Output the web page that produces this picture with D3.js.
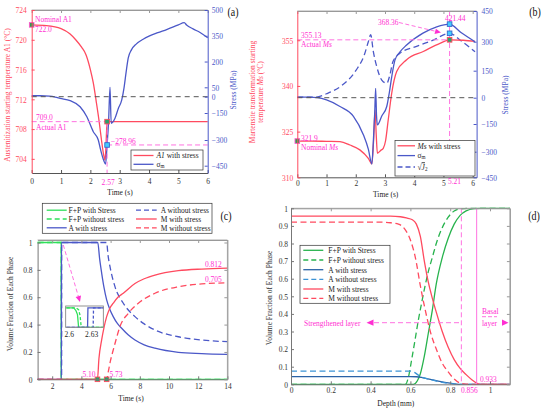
<!DOCTYPE html>
<html>
<head>
<meta charset="utf-8">
<script src="https://cdn.jsdelivr.net/npm/d3@7"></script>
<style>
body { margin: 0; background: #fff; }
svg { display: block; }
</style>
</head>
<body>
<svg id="chart" width="550" height="412"></svg>
<script>
// ---------- (a) austenitization start temperature and mean stress ----------
var timeA1 = [0, 0.5, 1, 1.3, 1.5, 1.7, 1.85, 2.0, 2.1, 2.2, 2.3, 2.38, 2.45, 2.5, 2.53, 2.57, 3, 4, 5, 6];
var a1WithStress = [722, 721.9, 721.5, 720.8, 720, 719, 718, 716, 714.2, 711.7, 709, 706.5, 704.6, 703.8, 705.5, 709, 709, 709, 709, 709];
var timeSigA = [0, 0.3, 0.6, 0.8, 0.97, 1.31, 1.65, 1.88, 2.1, 2.27, 2.35, 2.45, 2.52, 2.57, 2.62, 2.67, 2.71, 2.84, 2.95, 3.07, 3.15, 3.22, 3.29, 3.4, 3.57, 3.8, 4, 4.3, 4.6, 5, 5.2, 5.28, 5.5, 5.74, 6];
var sigmaMA = [5, 5, 3, -3, -15, -37, -92, -171, -254, -300, -358, -417, -440, -329, -200, 50, -207, -179, -110, -30, 50, 140, 220, 268, 303, 330, 348, 368, 386, 413, 426, 413, 390, 369, 338];
var tickTimeAB = [0, 1, 2, 3, 4, 5, 6];
var tickA1 = [704, 708, 712, 716, 720, 724];
var tickStressA = [500, 350, 200, 50, 0, -150, -300, -450];

// ---------- (b) martensite start temperature and stresses ----------
var timeMs = [0, 0.5, 1, 1.46, 1.8, 2.14, 2.43, 2.55, 2.61, 2.66, 2.7, 2.74, 2.85, 2.94, 3.02, 3.11, 3.23, 3.4, 3.74, 4.31, 4.88, 5.21, 5.68, 6.08];
var msWithStress = [321.9, 321.9, 321.8, 321.7, 320.6, 319, 316.2, 314.4, 322, 332, 324, 317.9, 318.8, 319.5, 322, 328.8, 337.6, 344.7, 348.6, 351.3, 354, 355.13, 355, 354.6];
var timeSigB = [0, 0.4, 0.7, 1, 1.46, 1.92, 2.26, 2.43, 2.55, 2.6, 2.65, 2.68, 2.71, 2.74, 2.89, 3.06, 3.15, 3.23, 3.34, 3.5, 3.74, 4.3, 4.77, 5.21, 5.6, 6.08];
var sigmaMB = [3, 3, 0, -13, -50, -106, -208, -286, -372, -250, -80, 52, -100, -155, -104, -50, 30, 116, 205, 245, 283, 342, 373, 386, 345, 300];
var timeJ2 = [0, 0.4, 0.7, 1, 1.5, 2, 2.3, 2.43, 2.51, 2.6, 2.72, 2.89, 3.06, 3.17, 3.27, 3.51, 4.08, 4.65, 5.21, 5.6, 6.08];
var sqrtJ2 = [3, 3, 5, 22, 65, 150, 235, 300, 335, 250, 170, 98, 80, 128, 196, 240, 276, 308, 341, 305, 248];
var tickMs = [310, 325, 340, 355];
var tickStressB = [450, 300, 150, 0, -150, -300, -450];

// ---------- (c) phase fractions vs time ----------
var timeFP = [1, 2.615, 2.62, 14];
var fpWith = [1, 1, 0, 0];
var timeFP0 = [1, 2.619, 2.624, 14];
var fpWithout = [1, 1, 0, 0];
var timeAc = [1, 2.63, 2.635, 5.12, 5.25, 5.39, 5.55, 5.73, 5.95, 6.18, 6.45, 6.76, 7.2, 7.67, 8.3, 9.04, 10.64, 12.24, 14];
var aWith = [0, 0, 1, 1, 0.88, 0.775, 0.67, 0.58, 0.51, 0.458, 0.41, 0.373, 0.325, 0.287, 0.252, 0.227, 0.197, 0.188, 0.182];
var timeAc0 = [1, 2.645, 2.65, 5.73, 5.82, 5.96, 6.3, 6.87, 7.67, 8.3, 9.04, 10.64, 12.24, 14];
var aWithout = [0, 0, 1, 1, 0.91, 0.823, 0.677, 0.556, 0.458, 0.405, 0.36, 0.311, 0.287, 0.275];
var timeMc = [1, 5.1, 5.2, 5.39, 5.55, 5.73, 5.95, 6.18, 6.5, 6.87, 7.67, 8.3, 9.04, 10.64, 12.24, 14];
var mWith = [0, 0, 0.15, 0.29, 0.38, 0.458, 0.52, 0.556, 0.6, 0.629, 0.7, 0.735, 0.762, 0.794, 0.806, 0.812];
var timeMc0 = [1, 5.73, 5.85, 6.0, 6.18, 6.4, 6.64, 7.21, 7.9, 9.04, 10.64, 12.24, 14];
var mWithout = [0, 0, 0.06, 0.14, 0.214, 0.3, 0.385, 0.482, 0.556, 0.629, 0.677, 0.697, 0.705];
var tickTimeC = [2, 4, 6, 8, 10, 12, 14];
var tickFracC = [0, 0.2, 0.4, 0.6, 0.8, 1];
// inset (zoom around 2.6 s)
var insTimeFP = [2.59, 2.606, 2.609, 2.611, 2.6125, 2.65];
var insFPWith = [1, 1, 0.85, 0.65, 0, 0];
var insTimeFP0 = [2.59, 2.609, 2.6125, 2.6145, 2.616, 2.65];
var insFPWithout = [1, 1, 0.9, 0.6, 0, 0];
var insTimeA = [2.59, 2.6245, 2.625, 2.65];
var insAWith = [0, 0, 1, 1];
var insTimeA0 = [2.59, 2.632, 2.6325, 2.65];
var insAWithout = [0, 0, 1, 1];

// ---------- (d) phase fractions vs depth ----------
var depthFP = [0, 0.6, 0.615, 0.635, 0.65, 0.67, 0.69, 0.71, 0.73, 0.76, 0.79, 0.82, 0.85, 0.88, 0.92, 0.95, 1.1];
var fpWithD = [0, 0, 0, 0.02, 0.06, 0.16, 0.29, 0.42, 0.57, 0.72, 0.83, 0.91, 0.96, 0.985, 0.998, 1, 1];
var depthFP0 = [0, 0.565, 0.575, 0.59, 0.606, 0.623, 0.64, 0.656, 0.673, 0.69, 0.71, 0.73, 0.76, 0.79, 0.82, 0.85, 0.9, 1.1];
var fpWithoutD = [0, 0, 0, 0.04, 0.138, 0.25, 0.365, 0.46, 0.555, 0.64, 0.72, 0.8, 0.89, 0.95, 0.985, 0.997, 1, 1];
var depthA = [0, 0.6, 0.63, 0.66, 0.7, 0.74, 0.78, 0.82, 0.86, 1.1];
var aWithD = [0.044, 0.044, 0.043, 0.038, 0.028, 0.018, 0.009, 0.003, 0, 0];
var depthA0 = [0, 0.6, 0.62, 0.64, 0.66, 0.7, 0.75, 0.8, 0.85, 1.1];
var aWithoutD = [0.075, 0.075, 0.068, 0.052, 0.04, 0.027, 0.013, 0.004, 0, 0];
var depthM = [0, 0.5, 0.55, 0.58, 0.61, 0.63, 0.65, 0.67, 0.69, 0.71, 0.73, 0.76, 0.79, 0.82, 0.85, 0.88, 0.91, 0.935, 0.95, 1.1];
var mWithD = [0.956, 0.956, 0.952, 0.945, 0.935, 0.91, 0.84, 0.7, 0.58, 0.49, 0.41, 0.3, 0.21, 0.14, 0.09, 0.055, 0.025, 0.006, 0, 0];
var depthM0 = [0, 0.45, 0.5, 0.54, 0.57, 0.6, 0.625, 0.65, 0.675, 0.7, 0.73, 0.76, 0.79, 0.82, 0.856, 0.9, 1.1];
var mWithoutD = [0.921, 0.921, 0.918, 0.91, 0.885, 0.82, 0.72, 0.56, 0.42, 0.3, 0.2, 0.12, 0.07, 0.03, 0.005, 0, 0];
var tickDepth = [0, 0.2, 0.4, 0.6, 0.8, 1];
var tickFracD = [0, 0.1, 0.2, 0.3, 0.4, 0.5, 0.6, 0.7, 0.8, 0.9, 1];

// ---------- styles ----------
var FONT = "'Liberation Serif','Times New Roman',serif";
var FS = 7.5;            // base font size
var SY = 1.15;           // text in the picture is a bit taller than wide
var RED = '#ff4a5f', BLUE = '#4b58c8', GREEN = '#2fe05a', GREEN_D = '#27b34d';
var BLUE_D1 = '#2a62a6', BLUE_D2 = '#3d94d6';
var MAG = '#ff2fd2', PINK = '#ff72e0', GRAY = '#999';
var plain = function(d) { return d < 0 ? '\u2212' + (-d) : String(d); };

var svg = d3.select('#chart').attr('font-family', FONT);

function txt(g, x, y, parts, o) {
  o = o || {};
  var size = o.size || FS;
  var t = g.append('text')
    .attr('transform', 'translate(' + x + ',' + y + ')' + (o.rot ? ' rotate(-90)' : ' scale(1,' + SY + ')'))
    .attr('text-anchor', o.anchor || 'start')
    .attr('font-size', size)
    .attr('fill', o.color || '#222');
  if (typeof parts === 'string') parts = [{ t: parts }];
  parts.forEach(function(p) {
    var s = t.append('tspan').text(p.t);
    if (p.i) s.attr('font-style', 'italic');
    if (p.sub) s.attr('baseline-shift', '-18%').attr('font-size', size * 0.68);
    if (p.over) s.style('text-decoration', 'overline');
  });
  return t;
}

function series(g, x, y, xs, ys, color, dash, curve, w) {
  var line = d3.line()
    .x(function(d) { return x(d[0]); })
    .y(function(d) { return y(d[1]); })
    .curve(curve || d3.curveMonotoneX);
  return g.append('path')
    .attr('d', line(d3.zip(xs, ys)))
    .attr('fill', 'none')
    .attr('stroke', color)
    .attr('stroke-width', w || 1.3)
    .attr('stroke-dasharray', dash || null);
}

function axis(g, gen, tx, ty, color, textColor, pad, noLabels) {
  gen.tickSize(-3).tickSizeOuter(0).tickPadding(pad).tickFormat(noLabels ? '' : plain);
  var a = g.append('g')
    .attr('transform', 'translate(' + tx + ',' + ty + ')')
    .call(gen);
  a.attr('font-family', FONT).attr('font-size', FS);
  a.select('.domain').attr('stroke', color);
  a.selectAll('.tick line').attr('stroke', color);
  a.selectAll('.tick text').attr('fill', textColor).attr('transform', 'scale(1,' + SY + ')');
  return a;
}

function hline(g, x1, x2, y, color, dash, w) {
  g.append('line').attr('x1', x1).attr('x2', x2).attr('y1', y).attr('y2', y)
    .attr('stroke', color).attr('stroke-width', w || 1).attr('stroke-dasharray', dash || null);
}
function vline(g, x, y1, y2, color, dash, w) {
  g.append('line').attr('x1', x).attr('x2', x).attr('y1', y1).attr('y2', y2)
    .attr('stroke', color).attr('stroke-width', w || 1).attr('stroke-dasharray', dash || null);
}
function marker(g, x, y, fill, stroke) {
  g.append('rect').attr('x', x - 2.3).attr('y', y - 2.3).attr('width', 4.6).attr('height', 4.6)
    .attr('fill', fill).attr('stroke', stroke).attr('stroke-width', 0.9);
}
function arrowHead(g, pts) {
  g.append('path').attr('d', 'M' + pts.join('L') + 'Z').attr('fill', MAG);
}
function legendRow(g, x1, x2, y, color, dash, label, tx) {
  hline(g, x1, x2, y, color, dash, 1.3);
  txt(g, tx, y + 2.8, label);
}
function valueAt(xs, ys, t) { return ys[xs.indexOf(t)]; }

// ================= (a) =================
var xA = d3.scaleLinear([0, 6], [31.7, 207.7]);
var yA = d3.scaleLinear([702.1, 724], [173, 10]);
var sA = d3.scaleLinear().domain([500, 50, 0, -150, -300, -450, -493]).range([10, 87.3, 96.7, 113, 140, 165.7, 173]);
var gA = svg.append('g');

series(gA, xA, yA, timeA1, a1WithStress, RED);
series(gA, xA, sA, timeSigA, sigmaMA, BLUE);
hline(gA, xA(0), xA(6), sA(0), '#555', '5,4', 1);

var a1Act = valueAt(timeA1, a1WithStress, 2.57);
var sigAct = valueAt(timeSigA, sigmaMA, 2.57);
hline(gA, xA(0), xA(2.57), yA(a1Act), PINK, '5,3');
vline(gA, xA(2.57), yA(a1Act), yA.range()[0], PINK, '5,3');
hline(gA, xA(2.57), xA(6), sA(sigAct), PINK, '5,3');
marker(gA, xA(0), yA(a1WithStress[0]), '#2e9e4e', '#ff55cc');
marker(gA, xA(2.57), yA(a1Act), '#2aa06a', RED);
marker(gA, xA(2.57), sA(sigAct), '#44ccff', '#3366cc');

hline(gA, 31.7, 207.7, 10, GRAY, null, 0.8);
axis(gA, d3.axisBottom(xA).tickValues(tickTimeAB), 0, 173, '#555', '#333', 4);
axis(gA, d3.axisTop(xA).tickValues(tickTimeAB), 0, 10, GRAY, '#333', 0, true);
axis(gA, d3.axisLeft(yA).tickValues(tickA1), 31.7, 0, RED, RED, 5);
axis(gA, d3.axisRight(sA).tickValues(tickStressA), 207.7, 0, BLUE, BLUE, 4);

txt(gA, 35, 22, 'Nominal A1', { color: MAG });
txt(gA, 35, 31.5, '722.0', { color: MAG });
txt(gA, 36, 120, '709.0', { color: MAG });
txt(gA, 36, 130, 'Actual A1', { color: MAG });
txt(gA, 111, 143.5, '\u2212278.96', { color: MAG });
txt(gA, xA(2.57) + 1, 185.3, '2.57', { color: MAG, anchor: 'middle' });
txt(gA, 120, 195, 'Time (s)', { anchor: 'middle' });
txt(gA, 9.5, 95, 'Austenitization starting temperature A1 (\u00b0C)', { rot: true, anchor: 'middle', color: RED });
txt(gA, 235.5, 90, 'Stress (MPa)', { rot: true, anchor: 'middle', color: BLUE });
txt(gA, 233, 16, '(a)', { size: 10, anchor: 'middle', color: '#111' });

gA.append('rect').attr('x', 131).attr('y', 150).attr('width', 72).attr('height', 20)
  .attr('fill', '#fff').attr('stroke', '#333').attr('stroke-width', 0.7);
legendRow(gA, 133.5, 153.5, 155.5, RED, null, [{ t: 'A1', i: true }, { t: ' with stress' }], 156.5);
legendRow(gA, 133.5, 153.5, 164.3, BLUE, null, [{ t: '\u03c3' }, { t: 'm', sub: true }], 156.5);

// ================= (b) =================
var xB = d3.scaleLinear([0, 6.134], [297.3, 476.6]);
var yB = d3.scaleLinear([310, 364.6], [177.3, 11]);
var sB = d3.scaleLinear().domain([450, 300, 150, 0, -150, -300, -450]).range([11, 41.7, 70.7, 97.7, 124, 151.7, 177.3]);
var gB = svg.append('g');

series(gB, xB, sB, timeJ2, sqrtJ2, BLUE, '6,3.5');
series(gB, xB, yB, timeMs, msWithStress, RED);
series(gB, xB, sB, timeSigB, sigmaMB, BLUE);
hline(gB, xB.range()[0], xB.range()[1], sB(0), '#555', '5,4', 1);

var msAct = valueAt(timeMs, msWithStress, 5.21);
hline(gB, xB(0), xB(5.21), yB(msAct), PINK, '5,3');
vline(gB, xB(5.21), 11, 177.3, PINK, '5,3');
marker(gB, xB(0), yB(msWithStress[0]), '#2e9e4e', '#ff55cc');
marker(gB, xB(5.21), yB(msAct), '#2aa06a', RED);
marker(gB, xB(5.21), sB(valueAt(timeSigB, sigmaMB, 5.21)), '#44ccff', '#3366cc');
marker(gB, xB(5.21), sB(valueAt(timeJ2, sqrtJ2, 5.21)), '#44ccff', '#3366cc');
gB.append('line').attr('x1', 399).attr('y1', 22.5).attr('x2', 436).attr('y2', 31.4)
  .attr('stroke', PINK).attr('stroke-dasharray', '4,2.5');
arrowHead(gB, [[441, 32.6], [434.5, 34.1], [435.9, 28.7]]);

hline(gB, 297.3, 476.6, 11, GRAY, null, 0.8);
axis(gB, d3.axisBottom(xB).tickValues(tickTimeAB), 0, 177.3, '#555', '#333', 2.5);
axis(gB, d3.axisTop(xB).tickValues(tickTimeAB), 0, 11, GRAY, '#333', 0, true);
axis(gB, d3.axisLeft(yB).tickValues(tickMs), 297.3, 0, RED, RED, 4);
axis(gB, d3.axisRight(sB).tickValues(tickStressB), 476.6, 0, BLUE, BLUE, 5);

txt(gB, 301, 37.5, '355.13', { color: MAG });
txt(gB, 301, 46.8, [{ t: 'Actual ' }, { t: 'Ms', i: true }], { color: MAG });
txt(gB, 301, 140.5, '321.9', { color: MAG });
txt(gB, 301, 149.5, [{ t: 'Nominal ' }, { t: 'Ms', i: true }], { color: MAG });
txt(gB, 378, 24.5, '368.36', { color: MAG });
txt(gB, 445, 20.5, '421.44', { color: MAG });
txt(gB, 448, 183.6, '5.21', { color: MAG });
txt(gB, 385.7, 196.5, 'Time (s)', { anchor: 'middle' });
txt(gB, 254.5, 92, 'Martensite transformation starting', { rot: true, anchor: 'middle', color: RED });
txt(gB, 263, 92, [{ t: 'temperature ' }, { t: 'Ms', i: true }, { t: ' (\u00b0C)' }], { rot: true, anchor: 'middle', color: RED });
txt(gB, 508, 95, 'Stress (MPa)', { rot: true, anchor: 'middle', color: BLUE });
txt(gB, 535, 16, '(b)', { size: 10, anchor: 'middle', color: '#111' });

gB.append('rect').attr('x', 395).attr('y', 140.5).attr('width', 80).attr('height', 35.5)
  .attr('fill', '#fff').attr('stroke', '#333').attr('stroke-width', 0.7);
legendRow(gB, 397.5, 415, 145.8, RED, null, [{ t: 'Ms', i: true }, { t: ' with stress' }], 417.5);
legendRow(gB, 397.5, 415, 155.6, BLUE, null, [{ t: '\u03c3' }, { t: 'm', sub: true }], 417.5);
legendRow(gB, 397.5, 415, 167, BLUE, '5,3', [{ t: '\u221a' }, { t: 'J', i: true, over: true }, { t: '2', sub: true }], 417.5);

// ================= (c) =================
var xC = d3.scaleLinear([1, 14], [37.6, 227.4]);
var yC = d3.scaleLinear([0, 1], [379.3, 242.5]);
var gC = svg.append('g');

series(gC, xC, yC, timeFP, fpWith, GREEN, null, d3.curveLinear);
series(gC, xC, yC, timeFP0, fpWithout, GREEN, '6,3.5', d3.curveLinear);
series(gC, xC, yC, timeAc, aWith, BLUE);
series(gC, xC, yC, timeAc0, aWithout, BLUE, '6,3.5');
series(gC, xC, yC, timeMc, mWith, RED);
series(gC, xC, yC, timeMc0, mWithout, RED, '6,3.5');

marker(gC, xC(5.1), yC(0), '#2aa06a', RED);
marker(gC, xC(5.73), yC(0), '#2aa06a', RED);
gC.append('line').attr('x1', 63.3).attr('y1', 245).attr('x2', 78.4).attr('y2', 296.5)
  .attr('stroke', PINK).attr('stroke-dasharray', '4,2.5');
arrowHead(gC, [[80, 302], [81, 295.4], [75.6, 297]]);

// frame
hline(gC, 37.6, 227.4, 240, GRAY, null, 0.8);
vline(gC, 227.4, 240, 379.3, GRAY, null, 0.8);
axis(gC, d3.axisBottom(xC).tickValues(tickTimeC), 0, 379.3, '#777', '#333', 3.5);
axis(gC, d3.axisTop(xC).tickValues(tickTimeC), 0, 240, GRAY, '#333', 0, true);
axis(gC, d3.axisLeft(yC).tickValues(tickFracC), 37.6, 0, '#777', '#333', 5);
axis(gC, d3.axisRight(yC).tickValues(tickFracC), 227.4, 0, GRAY, '#333', 0, true);

// inset
var xI = d3.scaleLinear([2.5952, 2.6456], [65.7, 103.3]);
var yI = d3.scaleLinear([0, 1], [327.3, 307.8]);
var clip = svg.append('clipPath').attr('id', 'insetClip');
clip.append('rect').attr('x', 65.7).attr('y', 306).attr('width', 37.6).attr('height', 21.3);
gC.append('rect').attr('x', 65.7).attr('y', 306).attr('width', 37.6).attr('height', 21.3).attr('fill', '#fff');
var gI = gC.append('g').attr('clip-path', 'url(#insetClip)');
series(gI, xI, yI, insTimeFP, insFPWith, GREEN, null, d3.curveLinear);
series(gI, xI, yI, insTimeFP0, insFPWithout, GREEN, '3,2', d3.curveLinear);
series(gI, xI, yI, insTimeA, insAWith, BLUE, null, d3.curveLinear);
series(gI, xI, yI, insTimeA0, insAWithout, BLUE, '3,2', d3.curveLinear);
gC.append('rect').attr('x', 65.7).attr('y', 306).attr('width', 37.6).attr('height', 21.3)
  .attr('fill', 'none').attr('stroke', '#777').attr('stroke-width', 0.8);
txt(gC, xI(2.6), 337, '2.6', { anchor: 'middle' });
txt(gC, xI(2.63), 337, '2.63', { anchor: 'middle' });

txt(gC, 205, 266.5, '0.812', { color: MAG });
txt(gC, 205, 281.5, '0.705', { color: MAG });
txt(gC, 95.5, 377.3, '5.10', { color: MAG, anchor: 'end' });
txt(gC, 109.5, 377.3, '5.73', { color: MAG });
txt(gC, 131, 401, 'Time (s)', { anchor: 'middle' });
txt(gC, 13, 304, 'Volume Fraction of Each Phase', { rot: true, anchor: 'middle', color: '#333' });
txt(gC, 226, 220, '(c)', { size: 10, anchor: 'middle', color: '#111' });

gC.append('rect').attr('x', 42.3).attr('y', 203.3).attr('width', 169.7).attr('height', 30)
  .attr('fill', '#fff').attr('stroke', '#333').attr('stroke-width', 0.7);
legendRow(gC, 46.7, 66.7, 210.2, GREEN, null, 'F+P with Stress', 68.5);
legendRow(gC, 46.7, 66.7, 219, GREEN, '5,3', 'F+P without stress', 68.5);
legendRow(gC, 46.7, 66.7, 227.8, BLUE, null, 'A with stress', 68.5);
legendRow(gC, 136, 156.7, 210.2, BLUE, '5,3', 'A without stress', 160.7);
legendRow(gC, 136, 156.7, 219, RED, null, 'M with stress', 160.7);
legendRow(gC, 136, 156.7, 227.8, RED, '5,3', 'M without stress', 160.7);

// ================= (d) =================
var xD = d3.scaleLinear([0, 1.1], [291, 509.9]);
var yD = d3.scaleLinear([0, 1], [384.3, 208.3]);
var gD = svg.append('g');

series(gD, xD, yD, depthFP, fpWithD, GREEN_D);
series(gD, xD, yD, depthFP0, fpWithoutD, GREEN_D, '6,3.5');
series(gD, xD, yD, depthA, aWithD, BLUE_D1);
series(gD, xD, yD, depthA0, aWithoutD, BLUE_D2, '6,3.5');
series(gD, xD, yD, depthM, mWithD, RED);
series(gD, xD, yD, depthM0, mWithoutD, RED, '6,3.5');

vline(gD, xD(0.856), 208.3, 384.3, PINK, '5,3');
vline(gD, xD(0.933), 208.3, 384.3, PINK, null, 1);
hline(gD, 374, xD(0.856), yD(0.35), PINK, '5,3');
arrowHead(gD, [[366.5, 322.7], [373.5, 319.6], [373.5, 325.8]]);
arrowHead(gD, [[508.5, 322.7], [502, 319.6], [502, 325.8]]);
hline(gD, 482, 497, 316.7, PINK, '4,2');

hline(gD, 291, 509.9, 208.3, GRAY, null, 0.8);
vline(gD, 509.9, 208.3, 384.3, GRAY, null, 0.8);
axis(gD, d3.axisBottom(xD).tickValues(tickDepth), 0, 384.3, '#777', '#333', 2.5);
axis(gD, d3.axisTop(xD).tickValues(tickDepth), 0, 208.3, GRAY, '#333', 0, true);
axis(gD, d3.axisLeft(yD).tickValues(tickFracD), 291, 0, '#777', '#333', 3);
axis(gD, d3.axisRight(yD).tickValues(tickFracD), 509.9, 0, GRAY, '#333', 0, true);

txt(gD, 304, 325.8, 'Strengthened layer', { color: MAG });
txt(gD, 482, 313.8, 'Basal', { color: MAG });
txt(gD, 482, 326.3, 'layer', { color: MAG });
txt(gD, 480, 381.8, '0.933', { color: MAG });
txt(gD, 461, 392.8, '0.856', { color: MAG });
txt(gD, 395.8, 406, 'Depth (mm)', { anchor: 'middle' });
txt(gD, 271.5, 298, 'Volume Fraction of Each Phase', { rot: true, anchor: 'middle', color: '#333' });
txt(gD, 534, 220, '(d)', { size: 10, anchor: 'middle', color: '#111' });

gD.append('rect').attr('x', 300).attr('y', 245.3).attr('width', 90).attr('height', 58)
  .attr('fill', '#fff').attr('stroke', '#333').attr('stroke-width', 0.7);
legendRow(gD, 303.3, 323.3, 250.3, GREEN_D, null, 'F+P with Stress', 328.3);
legendRow(gD, 303.3, 323.3, 260, GREEN_D, '5,3', 'F+P without stress', 328.3);
legendRow(gD, 303.3, 323.3, 269.7, BLUE_D1, null, 'A with stress', 328.3);
legendRow(gD, 303.3, 323.3, 279.3, BLUE_D2, '5,3', 'A without stress', 328.3);
legendRow(gD, 303.3, 323.3, 289, RED, null, 'M with stress', 328.3);
legendRow(gD, 303.3, 323.3, 298.3, RED, '5,3', 'M without stress', 328.3);
</script>
</body>
</html>
